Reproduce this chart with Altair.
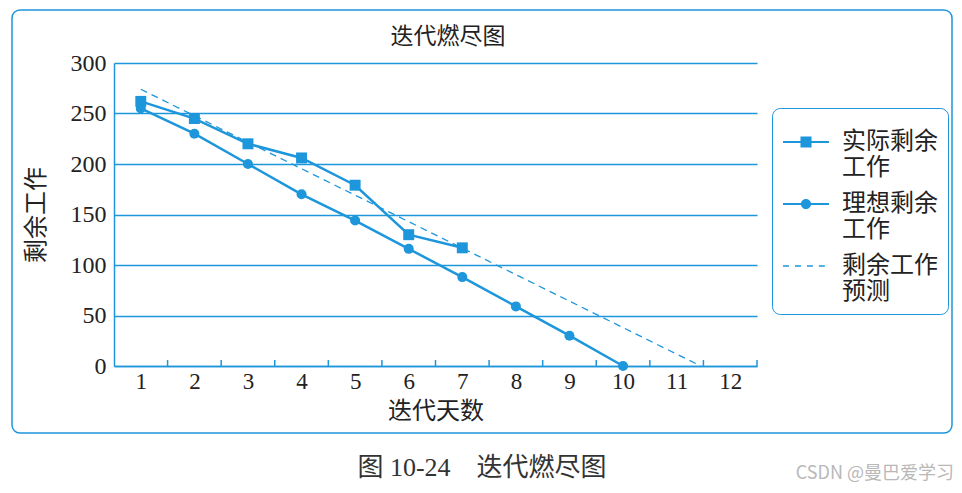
import altair as alt
import pandas as pd

# ---- data ----
days = list(range(1, 13))
actual_days = [1, 2, 3, 4, 5, 6, 7]
actual_work = [262, 245, 220, 206, 179, 130, 117]
ideal_days = [1, 2, 3, 4, 5, 6, 7, 8, 9, 10]
ideal_work = [255, 230, 200, 170, 144, 116, 88, 59, 30, 0]
forecast_days = [1, 11.45]
forecast_work = [274, 0]
series = ["实际剩余工作", "理想剩余工作", "剩余工作预测"]
y_ticks = [0, 50, 100, 150, 200, 250, 300]
tick_marks = [1.5, 2.5, 3.5, 4.5, 5.5, 6.5, 7.5, 8.5, 9.5, 10.5, 11.5, 12.5]

BLUE = "#1d96db"
TXT = "#222222"
SERIF = "Liberation Serif, Noto Sans CJK SC"
CJK = "Noto Sans CJK SC"

W, H = 643, 303

actual_df = pd.DataFrame({"day": actual_days, "work": actual_work})
ideal_df = pd.DataFrame({"day": ideal_days, "work": ideal_work})
fc_df = pd.DataFrame({"day": forecast_days, "work": forecast_work})
tick_df = pd.DataFrame({"day": tick_marks})
legend_df = pd.DataFrame({"s": series})
one = pd.DataFrame({"a": [0]})

xscale = alt.Scale(domain=[0.5, 12.5], nice=False, zero=False)
yscale = alt.Scale(domain=[0, 300], nice=False)

x_axis = alt.Axis(values=days, format="d", tickSize=0, domainColor=BLUE, domainWidth=1.5,
                  labelFont=SERIF, labelFontSize=23, labelColor=TXT, labelPadding=4,
                  grid=False, title="迭代天数", titleFont=CJK, titleFontSize=24,
                  titleFontWeight="normal", titleColor=TXT, titlePadding=6)
y_axis = alt.Axis(values=y_ticks, ticks=False, domainColor=BLUE, domainWidth=1.5,
                  grid=True, gridColor=BLUE, gridWidth=1.5,
                  labelFont=SERIF, labelFontSize=24, labelColor=TXT, labelPadding=8,
                  title="剩余工作", titleFont=CJK, titleFontSize=24,
                  titleFontWeight="normal", titleColor=TXT, titlePadding=22)

frame = alt.Chart(one).mark_rect(fillOpacity=0, stroke=BLUE, strokeWidth=1.5,
                                 cornerRadius=8).encode(
    x=alt.value(-102), x2=alt.value(838), y=alt.value(-53), y2=alt.value(370))

ideal_line = alt.Chart(ideal_df).mark_line(color=BLUE, strokeWidth=2.5).encode(
    x=alt.X("day:Q", scale=xscale, axis=x_axis),
    y=alt.Y("work:Q", scale=yscale, axis=y_axis))
ideal_pts = alt.Chart(ideal_df).mark_point(shape="circle", filled=True, color=BLUE,
                                           opacity=1, size=100).encode(
    x=alt.X("day:Q", scale=xscale), y=alt.Y("work:Q", scale=yscale))

actual_line = alt.Chart(actual_df).mark_line(color=BLUE, strokeWidth=2.5).encode(
    x=alt.X("day:Q", scale=xscale), y=alt.Y("work:Q", scale=yscale))
actual_pts = alt.Chart(actual_df).mark_point(shape="square", filled=True, color=BLUE,
                                             opacity=1, size=120).encode(
    x=alt.X("day:Q", scale=xscale), y=alt.Y("work:Q", scale=yscale))

fc_line = alt.Chart(fc_df).mark_line(color=BLUE, strokeWidth=1.3,
                                     strokeDash=[7, 5]).encode(
    x=alt.X("day:Q", scale=xscale), y=alt.Y("work:Q", scale=yscale))

ticks = alt.Chart(tick_df).mark_rule(color=BLUE, strokeWidth=1.5).encode(
    x=alt.X("day:Q", scale=xscale), y=alt.value(H), y2=alt.value(H - 6))

# legend glyphs built from filled shapes only (line, square / circle, dashes)
sq = ("M-1,-0.045H-0.24V0.045H-1Z"
      "M0.24,-0.045H1V0.045H0.24Z"
      "M-0.24,-0.24H0.24V0.24H-0.24Z")
ci = ("M-1,-0.045H-0.21V0.045H-1Z"
      "M0.21,-0.045H1V0.045H0.21Z"
      "M0.22,0A0.22,0.22,0,1,1,-0.22,0A0.22,0.22,0,1,1,0.22,0Z")
da = ("M-1,-0.03H-0.74V0.03H-1Z"
      "M-0.48,-0.03H-0.22V0.03H-0.48Z"
      "M0.04,-0.03H0.30V0.03H0.04Z"
      "M0.56,-0.03H0.82V0.03H0.56Z")

legend_layer = alt.Chart(legend_df).transform_filter("false").mark_point(
    filled=True, fill=BLUE, opacity=1).encode(
    shape=alt.Shape("s:N", scale=alt.Scale(domain=series, range=[sq, ci, da]),
                    legend=alt.Legend(
                        title=None, orient="none", legendX=658, legendY=45,
                        labelExpr="[substring(datum.label,0,4), substring(datum.label,4)]",
                        labelFont=CJK, labelFontSize=24,
                        labelColor=TXT, labelOffset=12, labelLimit=200,
                        symbolSize=2116, symbolFillColor=BLUE,
                        symbolOpacity=1,
                        rowPadding=0, padding=10, strokeColor=BLUE,
                        cornerRadius=8)))

title = alt.Chart(one).mark_text(text="迭代燃尽图", font=CJK, fontSize=23,
                                 color=TXT, align="center", baseline="middle").encode(
    x=alt.value(334), y=alt.value(-26))
caption = alt.Chart(one).mark_text(text="图 10-24　迭代燃尽图", font=SERIF,
                                   fontSize=26, color="#333333",
                                   align="center", baseline="middle").encode(
    x=alt.value(368), y=alt.value(405))
watermark = alt.Chart(one).mark_text(text="CSDN @曼巴爱学习", font=CJK,
                                     fontSize=18, color="#b8b8b8",
                                     align="right", baseline="middle").encode(
    x=alt.value(840), y=alt.value(411))

chart = alt.layer(frame, ticks, ideal_line, ideal_pts, actual_line, actual_pts,
                  fc_line, legend_layer, title, caption, watermark).properties(
    width=W, height=H,
    padding={"left": 106, "top": 55, "right": 197, "bottom": 119},
    autosize=alt.AutoSizeParams(type="none"),
).configure_view(strokeWidth=0)

chart.save("out.html", embed_options={"renderer": "svg", "actions": False})
